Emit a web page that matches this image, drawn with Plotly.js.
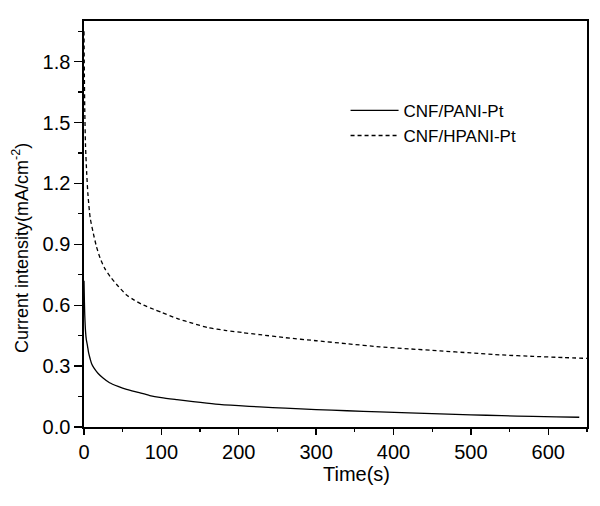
<!DOCTYPE html>
<html>
<head>
<meta charset="utf-8">
<script src="https://cdn.plot.ly/plotly-3.0.1.min.js"></script>
<style>
  html, body { margin: 0; padding: 0; background: #fff; }
  #chart { width: 600px; height: 506px; }
</style>
</head>
<body>
<div id="chart"></div>
<script>
  // values
  var timePani = [0, 0.5, 1, 2, 3, 4.5, 6, 8, 10, 13, 18, 25, 33, 44, 55, 70, 85, 100, 120, 141, 170, 200, 227, 260, 300, 340, 382, 420, 460, 500, 540, 580, 610, 640];
  var currentPani = [0.72, 0.62, 0.55, 0.47, 0.43, 0.40, 0.365, 0.335, 0.31, 0.29, 0.265, 0.24, 0.218, 0.2, 0.185, 0.17, 0.155, 0.145, 0.135, 0.125, 0.113, 0.105, 0.099, 0.093, 0.086, 0.08, 0.075, 0.07, 0.065, 0.06, 0.056, 0.052, 0.05, 0.048];

  var timeHpani = [0, 0.5, 1, 2, 3.5, 5, 8, 12, 16, 21, 27, 34, 45, 55, 65, 77, 90, 100, 120, 141, 160, 184, 205, 227, 260, 300, 340, 382, 420, 460, 500, 540, 580, 620, 650];
  var currentHpani = [1.95, 1.72, 1.56, 1.38, 1.25, 1.15, 1.03, 0.955, 0.89, 0.83, 0.78, 0.74, 0.69, 0.65, 0.625, 0.60, 0.58, 0.565, 0.535, 0.51, 0.49, 0.475, 0.465, 0.455, 0.44, 0.425, 0.41, 0.395, 0.385, 0.375, 0.365, 0.355, 0.348, 0.342, 0.338];

  var seriesNames = ['CNF/PANI-Pt', 'CNF/HPANI-Pt'];
  var xTicks = [0, 100, 200, 300, 400, 500, 600];
  var yTicks = [0, 0.3, 0.6, 0.9, 1.2, 1.5, 1.8];
  var yTickText = ['0.0', '0.3', '0.6', '0.9', '1.2', '1.5', '1.8'];

  var font = 'Liberation Sans, Arial, sans-serif';

  var trace1 = {
    x: timePani,
    y: currentPani,
    name: seriesNames[0],
    mode: 'lines',
    type: 'scatter',
    line: {color: '#000', width: 1.3, shape: 'spline', smoothing: 0.6}
  };

  var trace2 = {
    x: timeHpani,
    y: currentHpani,
    name: seriesNames[1],
    mode: 'lines',
    type: 'scatter',
    line: {color: '#000', width: 1.3, dash: '4px,3px', shape: 'spline', smoothing: 0.6}
  };

  var axisCommon = {
    showgrid: false,
    zeroline: false,
    showline: true,
    linecolor: '#000',
    linewidth: 1.6,
    mirror: true,
    ticks: 'outside',
    ticklen: 8,
    tickwidth: 1.4,
    tickcolor: '#000',
    tickfont: {family: font, size: 20, color: '#000'}
  };

  var layout = {
    width: 600,
    height: 506,
    margin: {l: 84, r: 13, t: 21, b: 79},
    paper_bgcolor: '#fff',
    plot_bgcolor: '#fff',
    font: {family: font, color: '#000'},
    xaxis: Object.assign({}, axisCommon, {
      range: [0, 650],
      tickvals: xTicks,
      ticklen: 6,
      minor: {dtick: 50, tick0: 0, ticks: 'outside', ticklen: 3, tickwidth: 1.2, tickcolor: '#000'}
    }),
    yaxis: Object.assign({}, axisCommon, {
      range: [0, 2.0],
      tickvals: yTicks,
      ticktext: yTickText,
      minor: {dtick: 0.15, tick0: 0, ticks: 'outside', ticklen: 4, tickwidth: 1.2, tickcolor: '#000'}
    }),
    annotations: [
      {
        text: 'Time(s)',
        xref: 'paper', yref: 'paper',
        x: 0.541, y: -0.116,
        xanchor: 'center', yanchor: 'middle',
        showarrow: false,
        font: {family: font, size: 20, color: '#000'}
      },
      {
        text: 'Current intensity(mA/cm<sup>-2</sup>)',
        xref: 'paper', yref: 'paper',
        x: -0.125, y: 0.441,
        xanchor: 'center', yanchor: 'middle',
        textangle: -90,
        showarrow: false,
        font: {family: font, size: 18, color: '#000'}
      }
    ],
    showlegend: true,
    legend: {
      x: 0.52, y: 0.823,
      xanchor: 'left', yanchor: 'top',
      bgcolor: 'rgba(0,0,0,0)',
      font: {family: font, size: 17, color: '#000'},
      tracegroupgap: 0,
      itemwidth: 48
    }
  };

  Plotly.newPlot('chart', [trace1, trace2], layout, {displayModeBar: false, staticPlot: true});
</script>
</body>
</html>
